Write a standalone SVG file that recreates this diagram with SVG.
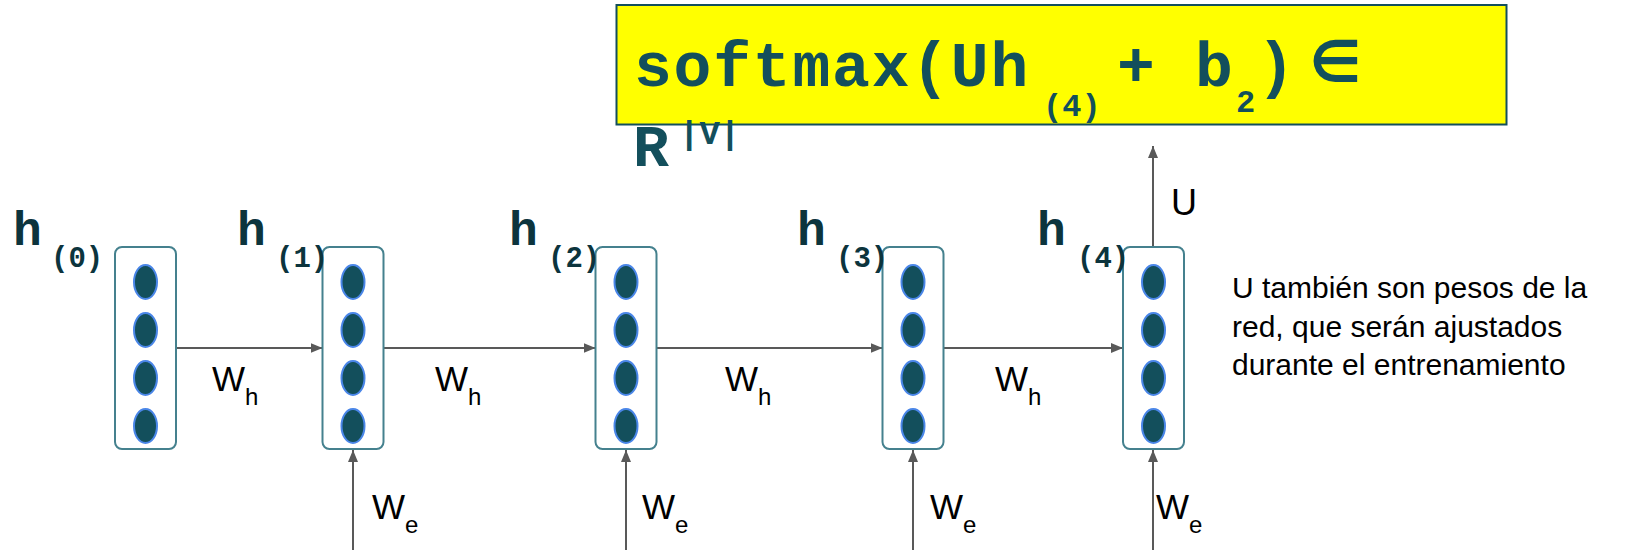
<svg xmlns="http://www.w3.org/2000/svg" width="1628" height="550" viewBox="0 0 1628 550">
<defs>
<style>
.box{fill:#ffffff;stroke:#45818e;stroke-width:2}
.cell{fill:#134f5c;stroke:#4a86e8;stroke-width:2}
.hl{font-family:"Liberation Mono","DejaVu Sans Mono",monospace;font-weight:bold;fill:#0c343d}
.lbl{font-family:"Liberation Sans",Arial,sans-serif;fill:#000000}
.fm{font-family:"Liberation Mono","DejaVu Sans Mono",monospace;font-weight:bold;fill:#134f5c}
.con{stroke:#595959;stroke-width:2;fill:none;marker-end:url(#arr)}
</style>
<marker id="arr" markerUnits="userSpaceOnUse" markerWidth="13" markerHeight="11" refX="12" refY="5" orient="auto">
<path d="M0,0 L12,5 L0,10 z" fill="#595959"/>
</marker>
</defs>
<rect width="1628" height="550" fill="#ffffff"/>

<g id="formula">
<rect x="616.5" y="5" width="890" height="119.5" fill="#ffff00" stroke="#134f5c" stroke-width="2"/>
<text class="fm" font-size="63" x="634" y="86" letter-spacing="1.8">softmax(Uh</text>
<text class="fm" font-size="32" x="1043" y="116">(4)</text>
<text class="fm" font-size="63" x="1117" y="86">+</text>
<text class="fm" font-size="63" x="1195" y="86">b</text>
<text class="fm" font-size="32" x="1236" y="112">2</text>
<text class="fm" font-size="63" x="1257" y="86">)</text>
<text class="fm" font-size="58" x="1335.5" y="82" text-anchor="middle" style="font-family:'DejaVu Sans',sans-serif">∈</text>
<text class="fm" font-size="60" x="633" y="166">R</text>
<text class="fm" font-size="34" x="679" y="144">|V|</text>
</g>

<g id="connectors">
<line class="con" x1="176" y1="348" x2="322.5" y2="348"/>
<line class="con" x1="383.5" y1="348" x2="595.5" y2="348"/>
<line class="con" x1="656.5" y1="348" x2="882.5" y2="348"/>
<line class="con" x1="943" y1="348" x2="1123" y2="348"/>
<line class="con" x1="353" y1="550" x2="353" y2="450"/>
<line class="con" x1="626" y1="550" x2="626" y2="450"/>
<line class="con" x1="913" y1="550" x2="913" y2="450"/>
<line class="con" x1="1153" y1="550" x2="1153" y2="450"/>
<line class="con" x1="1153" y1="247" x2="1153" y2="146"/>
<text class="lbl" font-size="35" x="212" y="391">W<tspan font-size="24" dy="14">h</tspan></text>
<text class="lbl" font-size="35" x="435" y="391">W<tspan font-size="24" dy="14">h</tspan></text>
<text class="lbl" font-size="35" x="725" y="391">W<tspan font-size="24" dy="14">h</tspan></text>
<text class="lbl" font-size="35" x="995" y="391">W<tspan font-size="24" dy="14">h</tspan></text>
<text class="lbl" font-size="35" x="372" y="519">W<tspan font-size="24" dy="14">e</tspan></text>
<text class="lbl" font-size="35" x="642" y="519">W<tspan font-size="24" dy="14">e</tspan></text>
<text class="lbl" font-size="35" x="930" y="519">W<tspan font-size="24" dy="14">e</tspan></text>
<text class="lbl" font-size="35" x="1156" y="519">W<tspan font-size="24" dy="14">e</tspan></text>
<text class="lbl" font-size="36" x="1171" y="215">U</text>
</g>

<g id="node-h0">
<rect class="box" x="115" y="247" width="61" height="202" rx="7"/>
<ellipse class="cell" cx="145.5" cy="282" rx="11.5" ry="17"/>
<ellipse class="cell" cx="145.5" cy="330" rx="11.5" ry="17"/>
<ellipse class="cell" cx="145.5" cy="378" rx="11.5" ry="17"/>
<ellipse class="cell" cx="145.5" cy="426" rx="11.5" ry="17"/>
<text class="hl" font-size="48" x="13" y="245">h</text>
<text class="hl" font-size="29" x="51" y="267">(0)</text>
</g>

<g id="node-h1">
<rect class="box" x="322.5" y="247" width="61" height="202" rx="7"/>
<ellipse class="cell" cx="353" cy="282" rx="11.5" ry="17"/>
<ellipse class="cell" cx="353" cy="330" rx="11.5" ry="17"/>
<ellipse class="cell" cx="353" cy="378" rx="11.5" ry="17"/>
<ellipse class="cell" cx="353" cy="426" rx="11.5" ry="17"/>
<text class="hl" font-size="48" x="237" y="245">h</text>
<text class="hl" font-size="29" x="276" y="267">(1)</text>
</g>

<g id="node-h2">
<rect class="box" x="595.5" y="247" width="61" height="202" rx="7"/>
<ellipse class="cell" cx="626" cy="282" rx="11.5" ry="17"/>
<ellipse class="cell" cx="626" cy="330" rx="11.5" ry="17"/>
<ellipse class="cell" cx="626" cy="378" rx="11.5" ry="17"/>
<ellipse class="cell" cx="626" cy="426" rx="11.5" ry="17"/>
<text class="hl" font-size="48" x="509" y="245">h</text>
<text class="hl" font-size="29" x="548" y="267">(2)</text>
</g>

<g id="node-h3">
<rect class="box" x="882.5" y="247" width="61" height="202" rx="7"/>
<ellipse class="cell" cx="913" cy="282" rx="11.5" ry="17"/>
<ellipse class="cell" cx="913" cy="330" rx="11.5" ry="17"/>
<ellipse class="cell" cx="913" cy="378" rx="11.5" ry="17"/>
<ellipse class="cell" cx="913" cy="426" rx="11.5" ry="17"/>
<text class="hl" font-size="48" x="797" y="245">h</text>
<text class="hl" font-size="29" x="836" y="267">(3)</text>
</g>

<g id="node-h4">
<rect class="box" x="1123" y="247" width="61" height="202" rx="7"/>
<ellipse class="cell" cx="1153.5" cy="282" rx="11.5" ry="17"/>
<ellipse class="cell" cx="1153.5" cy="330" rx="11.5" ry="17"/>
<ellipse class="cell" cx="1153.5" cy="378" rx="11.5" ry="17"/>
<ellipse class="cell" cx="1153.5" cy="426" rx="11.5" ry="17"/>
<text class="hl" font-size="48" x="1037" y="245">h</text>
<text class="hl" font-size="29" x="1077" y="267">(4)</text>
</g>

<g id="note">
<text class="lbl" font-size="30" x="1232">
<tspan x="1232" y="298">U también son pesos de la</tspan>
<tspan x="1232" y="336.5">red, que serán ajustados</tspan>
<tspan x="1232" y="375">durante el entrenamiento</tspan>
</text>
</g>
</svg>
